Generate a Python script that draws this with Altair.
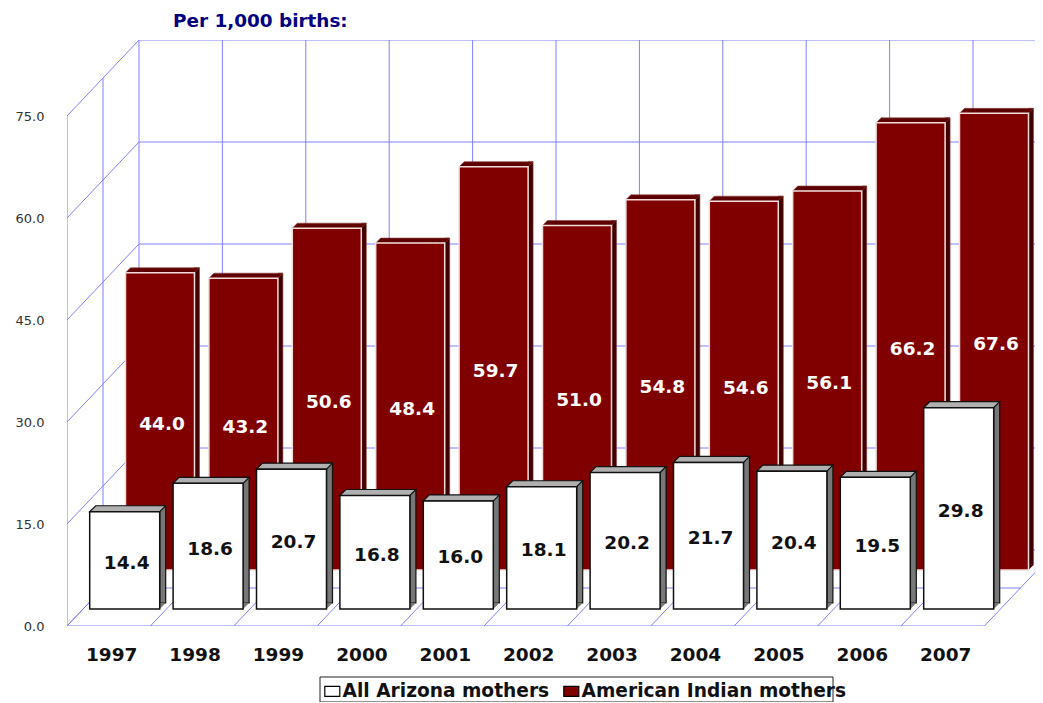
import altair as alt
import pandas as pd

years = ["1997", "1998", "1999", "2000", "2001", "2002", "2003", "2004", "2005", "2006", "2007"]
all_arizona = [14.4, 18.6, 20.7, 16.8, 16.0, 18.1, 20.2, 21.7, 20.4, 19.5, 29.8]
american_indian = [44.0, 43.2, 50.6, 48.4, 59.7, 51.0, 54.8, 54.6, 56.1, 66.2, 67.6]
y_ticks = [0, 15, 30, 45, 60, 75]
series_names = ["All Arizona mothers", "American Indian mothers"]
series_colors = ["#ffffff", "#800000"]

FONT = "DejaVu Sans"
GRID = "#8080ff"
W, H = 968, 586
STEP = 83.4
PX_AXIS = 6.8
PX_BAR = 6.755
DX = 72 / STEP      # depth of the box, in category units
DY = 76 / PX_AXIS   # depth of the box, in value units
XMAX = W / STEP
YMAX = H / PX_AXIS

# ---- wall and floor lines ----
segs = []
for v in y_ticks:
    segs.append((DX, XMAX, v + DY, v + DY))            # back wall horizontals
    segs.append((0, DX, v, v + DY))                    # left wall slants
for k in range(11):
    segs.append((DX + k, DX + k, DY, 75 + DY))         # back wall verticals
segs.append((0, 0, 0, 75))                             # left wall front edge
segs.append((DX / 2, DX / 2, DY / 2, 75 + DY / 2))     # left wall middle
for k in range(12):
    segs.append((k, k + DX, 0, DY))                    # floor slants
segs.append((0, 11, 0, 0))                             # floor front
segs.append((DX / 2, 11 + DX / 2, DY / 2, DY / 2))     # floor middle
grid_df = pd.DataFrame(segs, columns=["x", "x2", "y", "y2"])

x_q = alt.X("x:Q", scale=alt.Scale(domain=[0, XMAX], nice=False, zero=False), axis=None)
y_q = alt.Y("y:Q", scale=alt.Scale(domain=[0, YMAX], nice=False, zero=False),
            axis=alt.Axis(values=y_ticks, format=".1f", title=None, grid=False, domain=False,
                          ticks=False, labelPadding=23, labelFont=FONT, labelFontSize=13,
                          labelColor="#333333"))
grid = alt.Chart(grid_df).mark_rule(color=GRID, strokeWidth=1, clip=True).encode(
    x=x_q, x2="x2:Q", y=y_q, y2="y2:Q")

# ---- shared encodings for bars ----
x_band = alt.Scale(type="band", domain=years, range=[0, 11 * STEP], paddingInner=0, paddingOuter=0)
X_NOAXIS = alt.X("year:O", scale=x_band, axis=None)
Y_BAR = alt.Y("value:Q", scale=alt.Scale(domain=[0, H / PX_BAR], nice=False, zero=True), axis=None)
Y_BASE = alt.Y("base:Q", scale=alt.Scale(domain=[0, H / PX_BAR], nice=False, zero=True), axis=None)
Y_MID = alt.Y("mid:Q", scale=alt.Scale(domain=[0, H / PX_BAR], nice=False, zero=True), axis=None)
fill_enc = alt.Fill("series:N",
                    scale=alt.Scale(domain=series_names, range=series_colors),
                    legend=alt.Legend(title=None, orient="none", direction="horizontal",
                                      legendX=256, legendY=642, padding=0, columns=2,
                                      symbolType="M-1,-0.67H1V0.67H-1Z", symbolSize=225,
                                      symbolStrokeColor="#000000", symbolStrokeWidth=1.2,
                                      labelFont=FONT, labelFontWeight="bold", labelFontSize=18.6,
                                      labelColor="#111111", labelLimit=400, labelOffset=1,
                                      columnPadding=11))


def series_layers(values, name, xc, y_off, depth, half, front_stroke, top_fill, side_fill,
                  edge, label_color, edge_w):
    df = pd.DataFrame({"year": years, "value": values, "series": name})
    base = alt.Chart(df).transform_calculate(base="0", mid="datum.value/2")
    side = base.mark_bar(size=depth, fill=side_fill, stroke=edge, strokeWidth=edge_w,
                         xOffset=xc + half + depth / 2, yOffset=y_off - depth,
                         y2Offset=y_off - depth).encode(x=X_NOAXIS, y=Y_BAR)
    foot = base.mark_point(shape=f"M{half},0L{half+depth},{-depth}L{half},{-depth}Z", size=4,
                           filled=True, fill=side_fill, opacity=1, strokeWidth=0,
                           xOffset=xc, yOffset=y_off).encode(x=X_NOAXIS, y=Y_BASE)
    top = base.mark_point(shape=f"M{-half},0L{half},0L{half+depth},{-depth}L{-half+depth},{-depth}Z",
                          size=4, filled=True, fill=top_fill, stroke=edge, strokeWidth=edge_w,
                          opacity=1, xOffset=xc, yOffset=y_off).encode(x=X_NOAXIS, y=Y_BAR)
    front = base.mark_bar(size=2 * half, stroke=front_stroke, strokeWidth=1.5, strokeOpacity=1,
                          xOffset=xc, yOffset=y_off, y2Offset=y_off).encode(
        x=X_NOAXIS, y=Y_BAR, fill=fill_enc)
    label = base.mark_text(font=FONT, fontWeight="bold", fontSize=18.5, color=label_color,
                           baseline="middle", align="center", dx=xc + 2, dy=y_off + 2.5).encode(
        x=X_NOAXIS, y=Y_MID, text=alt.Text("value:Q", format=".1f"))
    return [side, foot, top, front, label]


maroon = series_layers(american_indian, series_names[1], 51.3, -56, 5, 34.5, "#f2dcdc",
                       "#5e0000", "#400000", "#8a4040", "#ffffff", 0.6)
white = series_layers(all_arizona, series_names[0], 16, -17, 6, 35, "#111111",
                      "#b0b0b0", "#777777", "#111111", "#111111", 1.2)

# ---- year axis ----
axis_df = pd.DataFrame({"year": years})
year_axis = alt.Chart(axis_df).mark_text(opacity=0, text=" ").encode(
    x=alt.X("year:O", scale=x_band,
            axis=alt.Axis(title=None, domain=False, ticks=False, grid=False, labelAngle=0,
                          labelPadding=19, labelOffset=3, labelFont=FONT, labelFontWeight="bold",
                          labelFontSize=18.5, labelColor="#111111")))

# ---- frame of the legend ----
legend_box = alt.Chart(axis_df.head(1)).mark_rect(fillOpacity=0, stroke="#222222", strokeWidth=1).encode(
    x=alt.value(253), x2=alt.value(766), y=alt.value(637), y2=alt.value(662))

chart = alt.layer(grid, *maroon, *white, year_axis, legend_box).resolve_scale(
    x="independent", y="independent", fill="shared"
).properties(
    width=W, height=H,
    autosize="none",
    padding={"left": 59, "top": 32, "right": 0, "bottom": 76},
    background="#ffffff",
    title=alt.Title("Per 1,000 births:", anchor="start", frame="group", dx=106, offset=10,
                    font=FONT, fontWeight="bold", fontSize=18.4, color="#000080"),
).configure_view(stroke=None)

chart.save("out.html", embed_options={"renderer": "svg", "actions": False})
